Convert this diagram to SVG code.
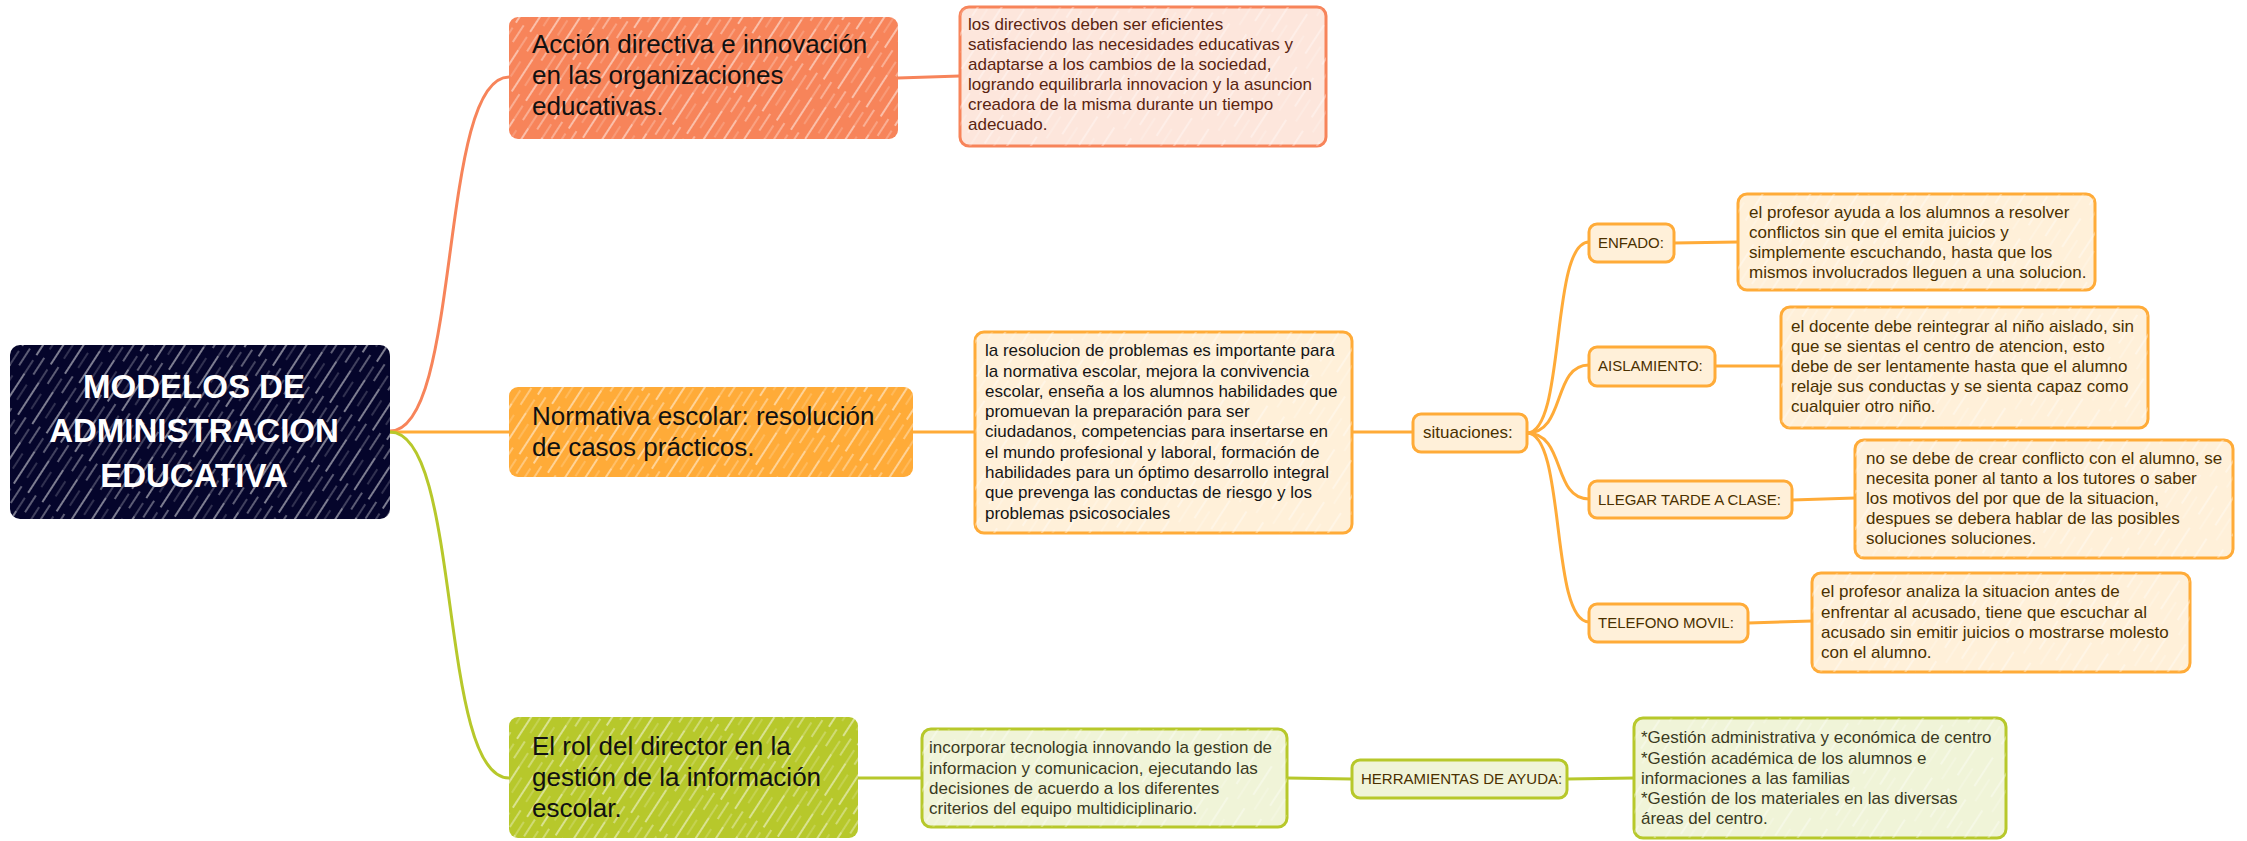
<svg xmlns="http://www.w3.org/2000/svg" width="2247" height="841" viewBox="0 0 2247 841">
<defs>
<pattern id="hatchStrong" width="17" height="60" patternUnits="userSpaceOnUse" patternTransform="rotate(33)">
<line x1="3" y1="0" x2="3" y2="38" stroke="#ffffff" stroke-width="1.6" stroke-opacity="0.6"/>
<line x1="3" y1="44" x2="3" y2="60" stroke="#ffffff" stroke-width="1.2" stroke-opacity="0.4"/>
<line x1="11" y1="8" x2="11" y2="26" stroke="#ffffff" stroke-width="1" stroke-opacity="0.35"/>
<line x1="11" y1="36" x2="11" y2="56" stroke="#ffffff" stroke-width="1.4" stroke-opacity="0.5"/>
</pattern>
<pattern id="hatchLight" width="20" height="50" patternUnits="userSpaceOnUse" patternTransform="rotate(33)">
<line x1="4" y1="0" x2="4" y2="34" stroke="#ffffff" stroke-width="1.4" stroke-opacity="0.8"/>
<line x1="13" y1="20" x2="13" y2="46" stroke="#ffffff" stroke-width="1" stroke-opacity="0.6"/>
</pattern>
<style>
.conn{fill:none;stroke-width:3;stroke-linecap:round}
.c1{stroke:#F7845A}
.c2{stroke:#FFAB38}
.c3{stroke:#B7C82B}
.title{font-family:"Liberation Sans",Arial,sans-serif;font-size:26px;fill:#111111}
.root{font-family:"Liberation Sans",Arial,sans-serif;font-size:33px;font-weight:bold;fill:#ffffff;text-anchor:middle}
.txt{font-family:"Liberation Sans",Arial,sans-serif;font-size:17px}
.lbl{font-family:"Liberation Sans",Arial,sans-serif;font-size:15px;fill:#4A3000}
.d1{fill:#FDE6DC;stroke:#F7845A;stroke-width:3}
.d2{fill:#FFF0D9;stroke:#FFAB38;stroke-width:3}
.d3{fill:#F0F4D8;stroke:#B7C82B;stroke-width:3}
.hl{fill:url(#hatchLight)}
.hs{fill:url(#hatchStrong)}
</style>
</defs>
<rect width="2247" height="841" fill="#ffffff"/>

<g id="connectors">
<path class="conn c1" d="M390,431 C462,431 438,77 509,77"/>
<path class="conn c2" d="M390,432 L509,432"/>
<path class="conn c3" d="M390,432 C462,432 438,778 509,778"/>
<path class="conn c1" d="M898,78 L960,76"/>
<path class="conn c2" d="M913,432 L975,432"/>
<path class="conn c2" d="M1352,432 L1413,432"/>
<path class="conn c2" d="M1527,433 C1566,433 1550,242 1589,242"/>
<path class="conn c2" d="M1527,433 C1566,433 1552,365 1589,365"/>
<path class="conn c2" d="M1527,433 C1566,433 1552,499 1589,499"/>
<path class="conn c2" d="M1527,433 C1566,433 1550,622 1589,622"/>
<path class="conn c2" d="M1674,243 L1738,242"/>
<path class="conn c2" d="M1715,366 L1781,366"/>
<path class="conn c2" d="M1792,500 L1855,498"/>
<path class="conn c2" d="M1748,623 L1812,621"/>
<path class="conn c3" d="M858,778 L922,778"/>
<path class="conn c3" d="M1287,778 L1352,779"/>
<path class="conn c3" d="M1567,779 L1634,778"/>
</g>

<g id="root">
<rect x="10" y="345" width="380" height="174" rx="10" fill="#05052B"/>
<rect x="10" y="345" width="380" height="174" rx="10" class="hs"/>
<text class="root" x="194" y="398">MODELOS DE</text>
<text class="root" x="194" y="442">ADMINISTRACION</text>
<text class="root" x="194" y="487">EDUCATIVA</text>
</g>

<g id="branch1">
<rect x="509" y="17" width="389" height="122" rx="9" fill="#F7845A"/>
<rect x="509" y="17" width="389" height="122" rx="9" class="hs"/>
<text class="title" x="532" y="53">Acción directiva e innovación</text>
<text class="title" x="532" y="84">en las organizaciones</text>
<text class="title" x="532" y="115">educativas.</text>
</g>

<g id="detail1">
<rect x="960" y="7" width="366" height="139" rx="9" class="d1"/>
<rect x="960" y="7" width="366" height="139" rx="9" class="hl" opacity="0.6"/>
<g class="txt" fill="#5A2410">
<text x="968" y="30">los directivos deben ser eficientes</text>
<text x="968" y="50">satisfaciendo las necesidades educativas y</text>
<text x="968" y="70">adaptarse a los cambios de la sociedad,</text>
<text x="968" y="90">logrando equilibrarla innovacion y la asuncion</text>
<text x="968" y="110">creadora de la misma durante un tiempo</text>
<text x="968" y="130">adecuado.</text>
</g>
</g>

<g id="branch2">
<rect x="509" y="387" width="404" height="90" rx="9" fill="#FFAB38"/>
<rect x="509" y="387" width="404" height="90" rx="9" class="hs"/>
<text class="title" x="532" y="425">Normativa escolar: resolución</text>
<text class="title" x="532" y="456">de casos prácticos.</text>
</g>

<g id="detail2">
<rect x="975" y="332" width="377" height="201" rx="9" class="d2"/>
<rect x="975" y="332" width="377" height="201" rx="9" class="hl" opacity="0.6"/>
<g class="txt" fill="#151515">
<text x="985" y="356">la resolucion de problemas es importante para</text>
<text x="985" y="377">la normativa escolar, mejora la convivencia</text>
<text x="985" y="397">escolar, enseña a los alumnos habilidades  que</text>
<text x="985" y="417">promuevan la preparación para ser</text>
<text x="985" y="437">ciudadanos, competencias para insertarse en</text>
<text x="985" y="458">el mundo profesional y laboral, formación de</text>
<text x="985" y="478">habilidades para un óptimo desarrollo integral</text>
<text x="985" y="498">que prevenga las conductas de riesgo y los</text>
<text x="985" y="519">problemas psicosociales</text>
</g>
</g>

<g id="situaciones">
<rect x="1413" y="414" width="114" height="38" rx="8" class="d2"/>
<text class="txt" x="1423" y="438" fill="#4A3000">situaciones:</text>
</g>

<g id="enfado">
<rect x="1589" y="224" width="85" height="38" rx="8" class="d2"/>
<text class="lbl" x="1598" y="248">ENFADO:</text>
</g>
<g id="enfado-detail">
<rect x="1738" y="194" width="357" height="96" rx="9" class="d2"/>
<rect x="1738" y="194" width="357" height="96" rx="9" class="hl" opacity="0.6"/>
<g class="txt" fill="#4A3000">
<text x="1749" y="218">el profesor ayuda a los alumnos a resolver</text>
<text x="1749" y="238">conflictos  sin que el emita juicios y</text>
<text x="1749" y="258">simplemente escuchando, hasta que los</text>
<text x="1749" y="278">mismos involucrados lleguen a una solucion.</text>
</g>
</g>

<g id="aislamiento">
<rect x="1589" y="347" width="126" height="39" rx="8" class="d2"/>
<text class="lbl" x="1598" y="371">AISLAMIENTO:</text>
</g>
<g id="aislamiento-detail">
<rect x="1781" y="307" width="367" height="121" rx="9" class="d2"/>
<rect x="1781" y="307" width="367" height="121" rx="9" class="hl" opacity="0.6"/>
<g class="txt" fill="#4A3000">
<text x="1791" y="332">el docente debe reintegrar al niño aislado, sin</text>
<text x="1791" y="352">que se sientas el centro de atencion, esto</text>
<text x="1791" y="372">debe de ser lentamente hasta que el alumno</text>
<text x="1791" y="392">relaje sus conductas y se sienta capaz como</text>
<text x="1791" y="412">cualquier otro niño.</text>
</g>
</g>

<g id="llegar-tarde">
<rect x="1589" y="481" width="203" height="37" rx="8" class="d2"/>
<text class="lbl" x="1598" y="505">LLEGAR TARDE A CLASE:</text>
</g>
<g id="llegar-tarde-detail">
<rect x="1855" y="440" width="378" height="118" rx="9" class="d2"/>
<rect x="1855" y="440" width="378" height="118" rx="9" class="hl" opacity="0.6"/>
<g class="txt" fill="#4A3000">
<text x="1866" y="464">no se debe de crear conflicto con el alumno, se</text>
<text x="1866" y="484">necesita poner al tanto a los tutores o saber</text>
<text x="1866" y="504">los motivos del por que de la situacion,</text>
<text x="1866" y="524">despues se debera hablar de las posibles</text>
<text x="1866" y="544">soluciones soluciones.</text>
</g>
</g>

<g id="telefono">
<rect x="1589" y="604" width="159" height="38" rx="8" class="d2"/>
<text class="lbl" x="1598" y="628">TELEFONO MOVIL:</text>
</g>
<g id="telefono-detail">
<rect x="1812" y="573" width="378" height="99" rx="9" class="d2"/>
<rect x="1812" y="573" width="378" height="99" rx="9" class="hl" opacity="0.6"/>
<g class="txt" fill="#4A3000">
<text x="1821" y="597">el profesor analiza la situacion antes de</text>
<text x="1821" y="618">enfrentar al acusado, tiene que escuchar al</text>
<text x="1821" y="638">acusado sin emitir juicios o mostrarse molesto</text>
<text x="1821" y="658">con el alumno.</text>
</g>
</g>

<g id="branch3">
<rect x="509" y="717" width="349" height="121" rx="9" fill="#B7C82B"/>
<rect x="509" y="717" width="349" height="121" rx="9" class="hs"/>
<text class="title" x="532" y="755">El rol del director en la</text>
<text class="title" x="532" y="786">gestión de la información</text>
<text class="title" x="532" y="817">escolar.</text>
</g>

<g id="detail3">
<rect x="922" y="729" width="365" height="98" rx="9" class="d3"/>
<rect x="922" y="729" width="365" height="98" rx="9" class="hl" opacity="0.6"/>
<g class="txt" fill="#3A3A22">
<text x="929" y="753">incorporar tecnologia innovando la gestion de</text>
<text x="929" y="774">informacion y comunicacion, ejecutando las</text>
<text x="929" y="794">decisiones de acuerdo a los diferentes</text>
<text x="929" y="814">criterios del equipo multidiciplinario.</text>
</g>
</g>

<g id="herramientas">
<rect x="1352" y="760" width="215" height="38" rx="8" class="d3"/>
<text class="lbl" x="1361" y="784" fill="#3A3A22">HERRAMIENTAS DE AYUDA:</text>
</g>

<g id="herramientas-detail">
<rect x="1634" y="718" width="372" height="120" rx="9" class="d3"/>
<rect x="1634" y="718" width="372" height="120" rx="9" class="hl" opacity="0.6"/>
<g class="txt" fill="#3A3A22">
<text x="1641" y="743">*Gestión administrativa y económica de centro</text>
<text x="1641" y="764">*Gestión académica de los alumnos e</text>
<text x="1641" y="784">informaciones a las familias</text>
<text x="1641" y="804">*Gestión de los materiales en las diversas</text>
<text x="1641" y="824">áreas del centro.</text>
</g>
</g>
</svg>
